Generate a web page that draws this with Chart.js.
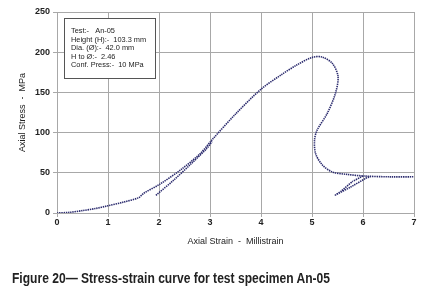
<!DOCTYPE html>
<html>
<head>
<meta charset="utf-8">
<script src="https://cdn.jsdelivr.net/npm/chart.js@4"></script>
<style>
  html, body { margin: 0; padding: 0; background: #fff; }
  #wrap { position: relative; width: 422px; height: 296px; }
  #caption {
    position: absolute; left: 12px; top: 270px;
    font: bold 14px "Liberation Sans", Arial, sans-serif; color: #222;
    white-space: nowrap; transform-origin: 0 0;
  }
</style>
</head>
<body>
<div id="wrap">
  <canvas id="stressStrain" width="422" height="296"></canvas>
  <div id="caption">Figure 20— Stress-strain curve for test specimen An-05</div>
</div>
<script>
// Valores (deformação em milistrain, tensão em MPa)
const loadStrain = [0, 0.25, 0.5, 0.75, 1.0, 1.3, 1.6, 1.7, 2.02, 2.42, 2.81, 3.04, 3.5, 4.0, 4.4, 4.7, 5.0, 5.2, 5.4, 5.51, 5.46, 5.3, 5.1, 5.05, 5.07, 5.2, 5.4, 5.69, 6.02, 6.5, 7.0];
const loadStress = [0, 0.8, 3, 5.5, 9, 13.5, 19, 24.5, 36, 53.5, 74, 91, 123, 154, 172, 184, 193.5, 194, 186, 170, 149, 124, 103, 91, 74, 60, 51, 48, 46, 45, 45];

const reloadStrain = [1.94, 2.29, 2.61, 2.94, 3.04];
const reloadStress = [22, 41, 60, 80.5, 89];

const loopStrain = [6.0, 5.79, 5.56, 5.46, 5.75, 6.05, 6.15];
const loopStress = [46, 39, 26.5, 22.4, 32, 43, 45.5];

const xTicks = [0, 1, 2, 3, 4, 5, 6, 7];
const yTicks = [0, 50, 100, 150, 200, 250];

const infoLines = [
  'Test:-   An-05',
  'Height (H):-  103.3 mm',
  'Dia. (Ø):-  42.0 mm',
  'H to Ø:-  2.46',
  'Conf. Press:-  10 MPa',
];

const toPoints = (xs, ys) => xs.map((x, i) => ({ x, y: ys[i] }));

const curveColor = '#2b2b6e';
const gridColor = '#a8a8a8';
const textColor = '#222';
const fontFamily = '"Liberation Sans", Arial, sans-serif';

const curveStyle = {
  showLine: true,
  borderColor: curveColor,
  backgroundColor: curveColor,
  borderWidth: 1.6,
  borderDash: [1.4, 0.8],
  pointRadius: 0,
  tension: 0.3,
};

// Caixa com dados do ensaio
const infoBox = {
  id: 'infoBox',
  afterDraw(chart) {
    const ctx = chart.ctx;
    ctx.save();
    ctx.fillStyle = '#fff';
    ctx.fillRect(64, 18, 91, 60);
    ctx.strokeStyle = '#555';
    ctx.lineWidth = 1;
    ctx.strokeRect(64.5, 18.5, 91, 60);
    ctx.fillStyle = textColor;
    ctx.font = '7.4px ' + fontFamily;
    ctx.textBaseline = 'middle';
    infoLines.forEach((line, i) => {
      ctx.fillText(line, 71, 31 + i * 8.6);
    });
    ctx.restore();
  },
};

new Chart(document.getElementById('stressStrain'), {
  type: 'scatter',
  data: {
    datasets: [
      { data: toPoints(loadStrain, loadStress), ...curveStyle },
      { data: toPoints(reloadStrain, reloadStress), ...curveStyle },
      { data: toPoints(loopStrain, loopStress), ...curveStyle, tension: 0.1 },
    ],
  },
  options: {
    responsive: false,
    animation: false,
    layout: { padding: { top: 12, right: 8, bottom: 49, left: 0 } },
    plugins: { legend: { display: false }, tooltip: { enabled: false } },
    scales: {
      x: {
        min: 0, max: 7,
        afterBuildTicks: (s) => { s.ticks = xTicks.map(v => ({ value: v })); },
        afterFit: (s) => { s.height = 34; },
        grid: { color: gridColor, tickLength: 4 },
        border: { color: gridColor },
        ticks: { color: textColor, padding: 0, font: { size: 9, weight: 'bold', family: fontFamily } },
        title: {
          display: true, text: 'Axial Strain  -  Millistrain', color: textColor,
          padding: 0, font: { size: 9, family: fontFamily },
        },
      },
      y: {
        min: 0, max: 250,
        afterBuildTicks: (s) => { s.ticks = yTicks.map(v => ({ value: v })); },
        afterFit: (s) => { s.width = 57; },
        grid: { color: gridColor, tickLength: 4 },
        border: { color: gridColor },
        ticks: { color: textColor, padding: 3, font: { size: 9, weight: 'bold', family: fontFamily } },
        title: {
          display: true, text: 'Axial Stress  -  MPa', color: textColor,
          padding: { top: 17, bottom: 0 }, font: { size: 9, family: fontFamily },
        },
      },
    },
  },
  plugins: [infoBox],
});

// Ajusta a legenda da figura para a largura do original
const caption = document.getElementById('caption');
const w = caption.getBoundingClientRect().width;
caption.style.transform = 'scaleX(' + (318 / w) + ')';
</script>
</body>
</html>
